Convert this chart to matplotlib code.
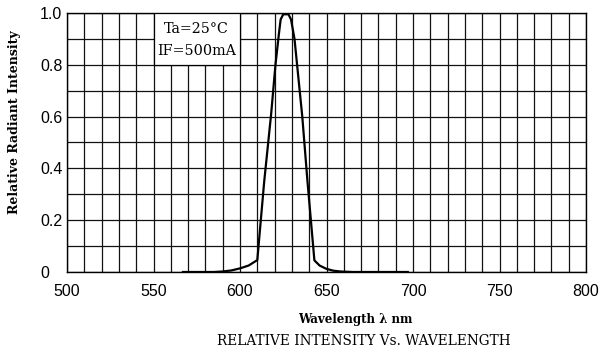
import matplotlib
matplotlib.use("Agg")
import matplotlib.pyplot as plt
from matplotlib.patches import Rectangle
from matplotlib.ticker import MultipleLocator

# spectrum
wavelength = [567, 585, 590, 595, 600, 605, 610, 614, 618, 620.5, 622.5, 623.5,
              625, 628, 629.5, 631.5, 633, 636, 639, 643, 646, 650, 654, 658,
              665, 680, 697]
intensity = [0, 0, 0.002, 0.006, 0.014, 0.025, 0.046, 0.35, 0.61, 0.8, 0.92, 0.975,
             0.995, 0.995, 0.975, 0.9, 0.8, 0.6, 0.35, 0.045, 0.025, 0.012, 0.005, 0.002,
             0, 0, 0]

x_ticks = [500, 550, 600, 650, 700, 750, 800]
y_ticks = [0, 0.2, 0.4, 0.6, 0.8, 1.0]
y_tick_labels = ["0", "0.2", "0.4", "0.6", "0.8", "1.0"]
note_lines = ["Ta=25°C", "IF=500mA"]

serif = ["DejaVu Serif", "Liberation Serif"]

fig = plt.figure(figsize=(6.02, 3.52), dpi=100)
ax = fig.add_axes([67 / 602, 1 - 272 / 352, (586 - 67) / 602, (272 - 13) / 352])

ax.set_xlim(500, 800)
ax.set_ylim(0, 1.0)

# grid every 10 nm and every 0.1
ax.xaxis.set_minor_locator(MultipleLocator(10))
ax.yaxis.set_minor_locator(MultipleLocator(0.1))
ax.grid(True, which="both", color="#111111", linewidth=0.9)
ax.set_axisbelow(True)

ax.plot(wavelength, intensity, color="black", linewidth=1.6, zorder=3)

# condition box in the upper left
ax.add_patch(Rectangle((550, 0.8), 50, 0.2, facecolor="white", edgecolor="black",
                       linewidth=0.9, zorder=4))
ax.text(575, 0.94, note_lines[0], ha="center", va="center", family=serif,
        fontsize=10.3, zorder=5)
ax.text(575, 0.852, note_lines[1], ha="center", va="center", family=serif,
        fontsize=10.3, zorder=5)

ax.set_xticks(x_ticks)
ax.set_xticklabels([str(v) for v in x_ticks], family="Liberation Sans", fontsize=11.5)
ax.set_yticks(y_ticks)
ax.set_yticklabels(y_tick_labels, family="Liberation Sans", fontsize=11.5, ha="left")
ax.tick_params(which="both", length=0)
ax.tick_params(axis="y", pad=19.5)
ax.tick_params(axis="x", pad=9)

for s in ax.spines.values():
    s.set_color("black")
    s.set_linewidth(1.0)

fig.text(15 / 602, 1 - 122 / 352, "Relative Radiant Intensity", rotation=90,
         ha="center", va="center", family=serif, fontweight="bold", fontsize=9)
fig.text(355 / 602, 1 - 320 / 352, "Wavelength λ nm", ha="center", va="center",
         family=serif, fontweight="bold", fontsize=8.5)
fig.text(364 / 602, 1 - 341 / 352, "RELATIVE INTENSITY Vs. WAVELENGTH", ha="center",
         va="center", family=serif, fontsize=9.8)

fig.savefig("out.png", dpi=100, facecolor="white")
